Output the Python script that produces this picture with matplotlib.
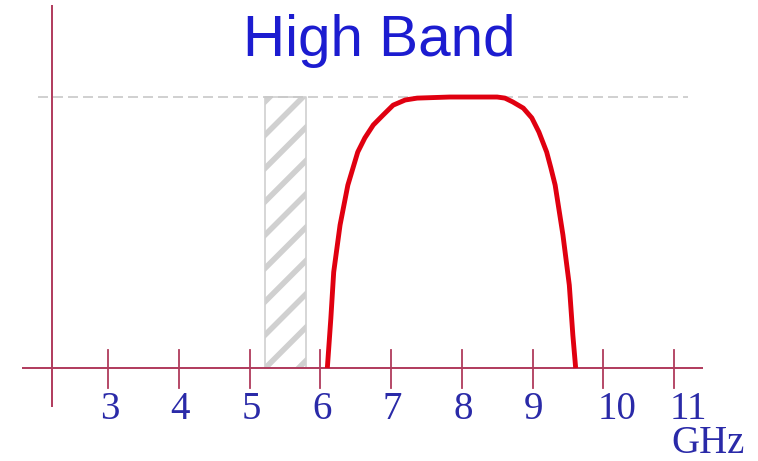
"""Passband sketch of the high band filter response."""

import matplotlib.pyplot as plt
import numpy as np

# Filter response (frequency in GHz, normalised amplitude)
freq_ghz = [6.10, 6.15, 6.19, 6.28, 6.39, 6.53, 6.63, 6.75, 6.89, 7.03, 7.20, 7.37, 7.83,
            8.50, 8.61, 8.72, 8.87, 8.99, 9.09, 9.20, 9.26, 9.32, 9.43, 9.52, 9.57, 9.61]
amplitude = [0.0, 0.185, 0.354, 0.528, 0.675, 0.797, 0.849, 0.897, 0.934, 0.970, 0.989, 0.996, 1.0,
             1.0, 0.996, 0.982, 0.959, 0.923, 0.871, 0.797, 0.738, 0.675, 0.491, 0.306, 0.122, 0.0]

# Excluded WLAN band (hatched)
notch_band = [5.22, 5.80]

tick_values = [3, 4, 5, 6, 7, 8, 9, 10, 11]
tick_labels = ["3", "4", "5", "6", "7", "8", "9", "10", "11"]

AXIS_COLOR = "#b03a5c"
LABEL_COLOR = "#2a2aa8"

fig = plt.figure(figsize=(7.58, 4.61), dpi=100)
ax = fig.add_axes([0, 0, 1, 1])
ax.set_xlim(1.4735, 12.187)
ax.set_ylim(-0.343, 1.358)
ax.axis("off")

# hand drawn axes
ax.plot([1.785, 11.41], [0, 0], color=AXIS_COLOR, lw=1.4, solid_capstyle="butt")
ax.plot([2.21, 2.21], [-0.144, 1.339], color=AXIS_COLOR, lw=1.4, solid_capstyle="butt")
for t in tick_values:
    ax.plot([t, t], [-0.074, 0.066], color=AXIS_COLOR, lw=1.3)

for t, lab in zip(tick_values, tick_labels):
    dx = 0.2 if len(lab) > 1 else 0.02
    ax.text(t + dx, -0.152, lab, ha="center", va="center", fontsize=28,
            family="Liberation Serif", color=LABEL_COLOR)
ax.text(11.48, -0.277, "GHz", ha="center", va="center", fontsize=28,
        family="Liberation Serif", color=LABEL_COLOR)

# reference level
ax.plot([2.01, 11.2], [1, 1], color="#c8c8c8", lw=1.2, ls=(0, (6, 3)))

# hatched notch
plt.rcParams["hatch.linewidth"] = 4
plt.rcParams["hatch.color"] = "#d8d8d8"
ax.fill_between(notch_band, 0, 1, facecolor="none", edgecolor="#d0d0d0",
                hatch="/", lw=1.2)

ax.plot(freq_ghz, amplitude, color="#e00010", lw=3.5, solid_capstyle="butt",
        solid_joinstyle="round")

ax.text(6.84, 1.205, "High Band", ha="center", va="center", fontsize=42,
        family="Liberation Sans", color="#1c1cd0")

fig.savefig("out.png", dpi=100, facecolor="white")
